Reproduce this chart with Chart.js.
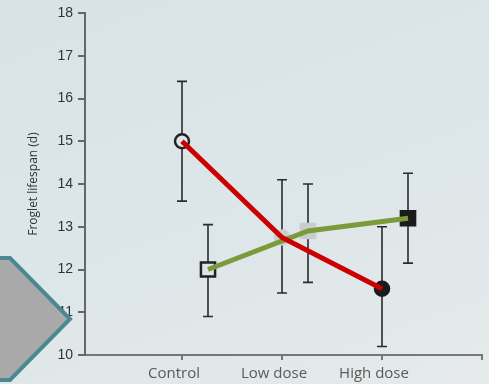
<!DOCTYPE html>
<html>
<head>
<meta charset="utf-8">
<script src="https://cdn.jsdelivr.net/npm/chart.js@4/dist/chart.umd.min.js"></script>
<style>
  html, body { margin: 0; padding: 0; }
  body {
    width: 489px; height: 384px; overflow: hidden;
    background: linear-gradient(160deg, #d9e3e7 0%, #dde6e9 55%, #e6eaea 100%);
  }
  #wrap { position: relative; width: 489px; height: 384px; }
</style>
</head>
<body>
<div id="wrap"><canvas id="lifespanChart" width="489" height="384"></canvas></div>
<script>
// categories and values
const categories = ['Control', 'Low dose', 'High dose'];
const circleMean = [15.0, 12.75, 11.55];
const circleErrHigh = [16.4, 14.1, 13.0];
const circleErrLow = [13.6, 11.45, 10.2];
const squareMean = [12.0, 12.9, 13.2];
const squareErrHigh = [13.05, 14.0, 14.25];
const squareErrLow = [10.9, 11.7, 12.15];
const yTicks = [10, 11, 12, 13, 14, 15, 16, 17, 18];
const squareOffset = 0.26;

const bg = '#dce5e8';
const markerFill = [bg, '#c9cdd0', '#1b1b1b'];
const markerBorder = ['#222', '#c9cdd0', '#1b1b1b'];

const circlePts = circleMean.map((v, i) => ({ x: i, y: v }));
const squarePts = squareMean.map((v, i) => ({ x: i + squareOffset, y: v }));

const noPadding = () => ({ left: 0, top: 0, right: 0, bottom: 0 });

const errorBars = {
    id: 'errorBars',
    beforeDatasetsDraw(chart) {
        const { ctx, scales: { x, y } } = chart;
        ctx.save();
        ctx.strokeStyle = '#2b2b2b';
        ctx.lineWidth = 1.6;
        const draw = (xs, lo, hi) => {
            xs.forEach((xv, i) => {
                const px = x.getPixelForValue(xv);
                const top = y.getPixelForValue(hi[i]);
                const bot = y.getPixelForValue(lo[i]);
                ctx.beginPath();
                ctx.moveTo(px, top); ctx.lineTo(px, bot);
                ctx.moveTo(px - 5, top); ctx.lineTo(px + 5, top);
                ctx.moveTo(px - 5, bot); ctx.lineTo(px + 5, bot);
                ctx.stroke();
            });
        };
        draw([0, 1, 2], circleErrLow, circleErrHigh);
        draw([0, 1, 2].map(v => v + squareOffset), squareErrLow, squareErrHigh);
        ctx.restore();
    }
};

// grey arrow shape at lower left of the slide, plus end of the x axis
const arrowShape = {
    id: 'arrowShape',
    afterDraw(chart) {
        const ctx = chart.ctx;
        const a = chart.chartArea;
        const axisEnd = 482;
        ctx.save();
        ctx.strokeStyle = '#777';
        ctx.lineWidth = 2;
        ctx.beginPath();
        ctx.moveTo(a.right - 1, a.bottom);
        ctx.lineTo(axisEnd, a.bottom);
        ctx.moveTo(axisEnd, a.bottom - 1);
        ctx.lineTo(axisEnd, a.bottom + 5);
        ctx.stroke();

        ctx.beginPath();
        ctx.moveTo(-5, 258);
        ctx.lineTo(10, 258);
        ctx.lineTo(70, 319);
        ctx.lineTo(10, 380);
        ctx.lineTo(-5, 380);
        ctx.closePath();
        ctx.fillStyle = '#a9a9a9';
        ctx.fill();
        ctx.lineWidth = 4;
        ctx.strokeStyle = '#4b8892';
        ctx.stroke();
        ctx.restore();
    }
};

new Chart(document.getElementById('lifespanChart'), {
    type: 'scatter',
    data: {
        datasets: [
            {
                label: 'Circle markers',
                data: circlePts,
                showLine: false,
                pointStyle: 'circle',
                pointRadius: 7,
                pointBorderWidth: 2.5,
                pointBackgroundColor: markerFill,
                pointBorderColor: markerBorder,
                order: 3
            },
            {
                label: 'Square markers',
                data: squarePts,
                showLine: false,
                pointStyle: 'rect',
                pointRadius: 10,
                pointBorderWidth: 2.5,
                pointBackgroundColor: markerFill,
                pointBorderColor: markerBorder,
                order: 3
            },
            {
                label: 'Circles',
                data: circlePts,
                showLine: true,
                borderColor: '#cc0000',
                borderWidth: 5,
                pointRadius: 0,
                order: 1
            },
            {
                label: 'Squares',
                data: squarePts,
                showLine: true,
                borderColor: '#7b9b3a',
                borderWidth: 5,
                pointRadius: 0,
                order: 2
            }
        ]
    },
    options: {
        responsive: false,
        animation: false,
        layout: { padding: { top: 13, right: 7, left: 0, bottom: 0 } },
        plugins: {
            legend: { display: false },
            tooltip: { enabled: false }
        },
        scales: {
            x: {
                type: 'linear',
                min: -0.97,
                max: 2.945,
                afterBuildTicks: axis => { axis.ticks = [0, 1, 2].map(v => ({ value: v })); },
                afterFit: scale => {
                    scale.height = 29;
                    scale.getPadding = noPadding;
                },
                grid: { drawOnChartArea: false, drawTicks: true, tickLength: 5, color: '#777', lineWidth: 2 },
                border: { display: true, color: '#777', width: 2 },
                ticks: {
                    autoSkip: false,
                    maxRotation: 0,
                    padding: 5,
                    labelOffset: -8,
                    color: '#5a5a5a',
                    font: { family: 'Open Sans', size: 15 },
                    callback: v => categories[v]
                }
            },
            y: {
                min: 10,
                max: 18,
                afterBuildTicks: axis => { axis.ticks = yTicks.map(v => ({ value: v })); },
                afterFit: scale => {
                    scale.width = 85;
                    scale.getPadding = noPadding;
                },
                grid: { drawOnChartArea: false, drawTicks: true, tickLength: 7, color: '#666', lineWidth: 2 },
                border: { display: true, color: '#666', width: 2 },
                title: {
                    display: true,
                    text: 'Froglet lifespan (d)',
                    color: '#333',
                    font: { family: 'Open Sans', size: 12 },
                    padding: { top: 26, bottom: 0 }
                },
                ticks: {
                    padding: 5,
                    color: '#333',
                    font: { family: 'Liberation Sans', size: 14 }
                }
            }
        }
    },
    plugins: [errorBars, arrowShape]
});
</script>
</body>
</html>
